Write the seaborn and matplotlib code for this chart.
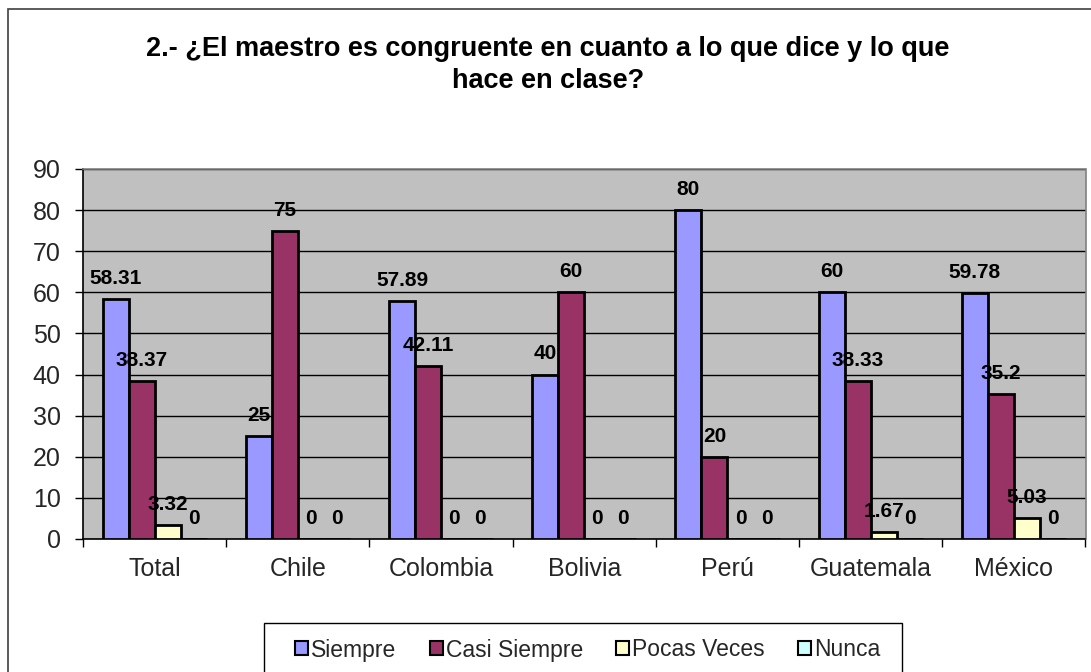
import matplotlib
matplotlib.use("Agg")
import matplotlib.pyplot as plt
import matplotlib.patches as mpatches
import seaborn as sns
import pandas as pd

categories = ["Total", "Chile", "Colombia", "Bolivia", "Perú", "Guatemala", "México"]
series = ["Siempre", "Casi Siempre", "Pocas Veces", "Nunca"]
siempre = [58.31, 25, 57.89, 40, 80, 60, 59.78]
casi_siempre = [38.37, 75, 42.11, 60, 20, 38.33, 35.2]
pocas_veces = [3.32, 0, 0, 0, 0, 1.67, 5.03]
nunca = [0, 0, 0, 0, 0, 0, 0]
colors = ["#9999FF", "#993366", "#FFFFCC", "#CCFFFF"]
title = "2.- ¿El maestro es congruente en cuanto a lo que dice y lo que\nhace en clase?"

values = [siempre, casi_siempre, pocas_veces, nunca]
rows = []
for s, vals in zip(series, values):
    for c, v in zip(categories, vals):
        rows.append({"Pais": c, "Serie": s, "Valor": v})
df = pd.DataFrame(rows)

sns.set_theme(style="white")
plt.rcParams["font.family"] = ["Liberation Sans", "DejaVu Sans"]

W, H = 1091, 672
fig = plt.figure(figsize=(W / 100, H / 100), dpi=100)
fig.patch.set_facecolor("white")

# outer chart border (left and top visible)
fig.add_artist(mpatches.Rectangle((8 / W, -0.1), 1.2, 1 - 9 / H + 0.1,
                                  transform=fig.transFigure, fill=False,
                                  edgecolor="#404040", linewidth=1.2))

ax = fig.add_axes([83 / W, 1 - 539 / H, (1085.5 - 83) / W, (539 - 169) / H])
ax.set_facecolor("#C0C0C0")

sns.barplot(data=df, x="Pais", y="Valor", hue="Serie", order=categories,
            hue_order=series, palette=colors, edgecolor="black", linewidth=2,
            width=0.727, gap=0, saturation=1, ax=ax, legend=False, zorder=3)

for cont in ax.containers:
    ax.bar_label(cont, fmt="{:g}", padding=8, fontsize=15,
                 fontweight="bold", color="black", zorder=4)

ax.set_ylim(0, 90)
ax.set_xlim(-0.5, len(categories) - 0.5)
ax.set_yticks(range(0, 91, 10))
ax.yaxis.grid(True, color="black", linewidth=1)
ax.set_axisbelow(True)
ax.set_xlabel("")
ax.set_ylabel("")

ax.tick_params(axis="y", which="major", direction="out", length=6, width=1,
               color="black", pad=10, labelsize=18, left=True)
ax.tick_params(axis="x", which="major", length=0, pad=13, labelsize=18)
ax.set_xticks([i - 0.5 for i in range(len(categories) + 1)], minor=True)
ax.tick_params(axis="x", which="minor", direction="out", length=6, width=1,
               color="black", bottom=True)

for side in ["left", "bottom"]:
    ax.spines[side].set_color("black")
    ax.spines[side].set_linewidth(1.2)
for side in ["top", "right"]:
    ax.spines[side].set_color("#808080")
    ax.spines[side].set_linewidth(1.2)

fig.text(548 / W, 1 - 65 / H, title, ha="center", va="center", color="black",
         fontsize=19.5, fontweight="bold", linespacing=1.33)

# legend
handles = [mpatches.Patch(facecolor=c, edgecolor="black", linewidth=1.5) for c in colors]
leg = fig.legend(handles, series, loc="center", ncol=4,
                 bbox_to_anchor=(588 / W, 1 - 650 / H), frameon=False,
                 fontsize=16.5, handlelength=0.55, handleheight=0.55,
                 handletextpad=0.15, columnspacing=1.45, borderpad=0)
fig.add_artist(mpatches.Rectangle((264 / W, -0.1), (902 - 264) / W, 1 - 623 / H + 0.1,
                                  transform=fig.transFigure, fill=False,
                                  edgecolor="black", linewidth=1))

fig.savefig("out.png", dpi=100)
